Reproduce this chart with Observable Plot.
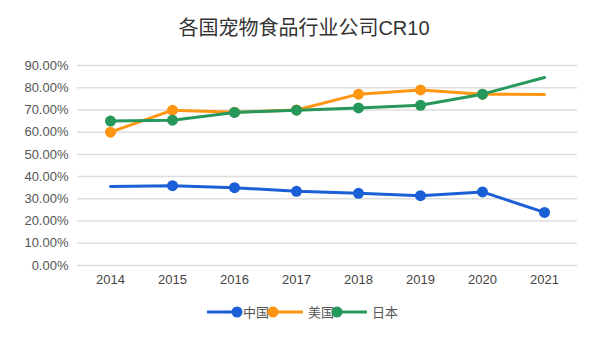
<!DOCTYPE html>
<html>
<head>
<meta charset="utf-8">
<script src="https://cdn.jsdelivr.net/npm/d3@7"></script>
<script src="https://cdn.jsdelivr.net/npm/@observablehq/plot@0.6"></script>
<style>
  html, body { margin: 0; padding: 0; background: #fff; }
  #wrap { position: relative; width: 600px; height: 340px; font-family: "Liberation Sans", Arial, "Noto Sans CJK SC", sans-serif; }
  #title { position: absolute; left: 4px; top: 15px; width: 600px; text-align: center; font-size: 20px; line-height: 26px; color: #333; font-family: "Liberation Sans", Arial, "Noto Sans CJK SC", sans-serif; }
  #chart { position: absolute; left: 0; top: 50px; }
  #legend { position: absolute; left: 0; top: 302px; width: 600px; height: 22px; }
</style>
</head>
<body>
<div id="wrap">
  <div id="title"></div>
  <div id="chart"></div>
  <svg id="legend" width="600" height="22"></svg>
</div>
<script>
const title = "各国宠物食品行业公司CR10";
const years = ["2014", "2015", "2016", "2017", "2018", "2019", "2020", "2021"];
const seriesNames = ["中国", "美国", "日本"];
const chinaValues = [35.6, 35.9, 35.0, 33.4, 32.5, 31.4, 33.1, 23.9];
const usaValues = [60.0, 69.9, 69.0, 70.0, 77.1, 79.0, 77.1, 76.9];
const japanValues = [65.0, 65.4, 68.9, 69.9, 70.9, 72.1, 77.1, 84.6];
const yTicks = [0, 10, 20, 30, 40, 50, 60, 70, 80, 90];
// points drawn without a marker in the original
const noMarker = [["中国", "2014"], ["美国", "2021"], ["日本", "2021"]];

const colors = ["#1b5fd6", "#ff9612", "#26985c"];
const allValues = [chinaValues, usaValues, japanValues];

const data = [];
seriesNames.forEach((s, i) => {
  years.forEach((y, j) => {
    data.push({series: s, year: y, value: allValues[i][j] / 100,
      marker: !noMarker.some(([ns, ny]) => ns === s && ny === y)});
  });
});

document.getElementById("title").textContent = title;

const marks = [
  Plot.ruleY(yTicks.map(d => d / 100), {stroke: "#dedede", strokeWidth: 1.5}),
  Plot.axisY(yTicks.map(d => d / 100), {tickSize: 0, tickPadding: 9, tickFormat: d3.format(".2%"), fontSize: 13, fill: "#555", label: null}),
  Plot.axisX({tickSize: 0, tickPadding: 9, fontSize: 13, fill: "#444", label: null})
];
seriesNames.forEach((s, i) => {
  const sd = data.filter(d => d.series === s);
  marks.push(Plot.line(sd, {x: "year", y: "value", stroke: colors[i], strokeWidth: 3}));
  marks.push(Plot.dot(sd.filter(d => d.marker), {x: "year", y: "value", r: 5.5, fill: colors[i], stroke: colors[i], strokeWidth: 0}));
});

const chart = Plot.plot({
  width: 600,
  height: 245,
  marginTop: 15,
  marginBottom: 30,
  marginLeft: 77,
  marginRight: 23,
  style: {fontFamily: "'Liberation Sans', Arial, 'Noto Sans CJK SC', sans-serif", background: "transparent"},
  x: {type: "point", domain: years, padding: 0.5},
  y: {domain: [0, 0.9]},
  marks
});
document.getElementById("chart").appendChild(chart);

// legend
const lg = d3.select("#legend");
const swatches = [
  {lineFrom: 207, lineTo: 237, dot: 237, text: 243},
  {lineFrom: 273, lineTo: 303, dot: 273, text: 308},
  {lineFrom: 337, lineTo: 367, dot: 337, text: 372}
];
seriesNames.forEach((s, i) => {
  const sw = swatches[i];
  lg.append("line").attr("x1", sw.lineFrom).attr("x2", sw.lineTo).attr("y1", 10).attr("y2", 10)
    .attr("stroke", colors[i]).attr("stroke-width", 3);
  lg.append("circle").attr("cx", sw.dot).attr("cy", 10).attr("r", 5.5).attr("fill", colors[i]);
  lg.append("text").attr("x", sw.text).attr("y", 14.5).text(s)
    .attr("font-size", 13).attr("fill", "#555")
    .attr("font-family", "'Noto Sans CJK SC', sans-serif");
});
</script>
</body>
</html>
